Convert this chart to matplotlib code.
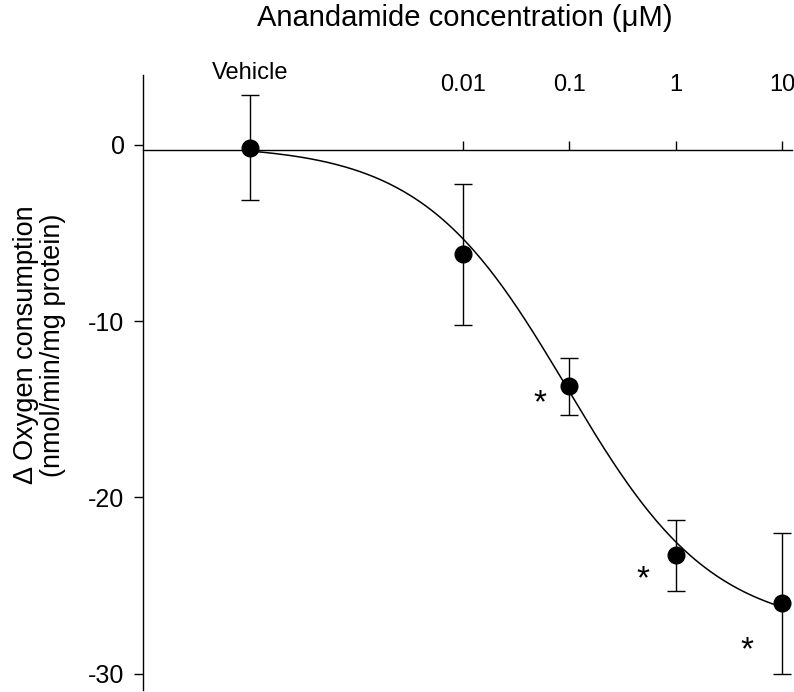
import numpy as np
import matplotlib.pyplot as plt
import matplotlib.transforms as mtransforms
from matplotlib.ticker import NullLocator

plt.rcParams['font.family'] = ['Liberation Sans', 'DejaVu Sans']
plt.rcParams['axes.unicode_minus'] = False

# anandamide concentration (uM), vehicle drawn at 1e-4
conc = [1e-4, 0.01, 0.1, 1, 10]
tick_labels = ['Vehicle', '0.01', '0.1', '1', '10']
oxygen = [-0.15, -6.2, -13.7, -23.3, -26.0]
sem = [3.0, 4.0, 1.6, 2.0, 4.0]

# significance marks
star_x = [0.053, 0.49, 4.7]
star_y = [-14.5, -24.5, -28.5]

# sigmoidal fit
fit_top = 0.0
fit_bottom = -27.6
fit_logec50 = -1.02
fit_hill = 0.635

fig = plt.figure(figsize=(7.94, 6.92), dpi=100)
ax = fig.add_axes([0.1805, 0.003, 0.8166, 0.8887])

xs = np.logspace(np.log10(conc[0]), np.log10(conc[-1]), 300)
fit = fit_bottom + (fit_top - fit_bottom) / (1 + 10 ** ((np.log10(xs) - fit_logec50) * fit_hill))
ax.plot(xs, fit, color='black', lw=1.1, zorder=2)

ax.errorbar(conc, oxygen, yerr=sem, fmt='o', color='black', ms=12,
            capsize=6.5, elinewidth=1, capthick=1, zorder=3)

for sx, sy in zip(star_x, star_y):
    ax.text(sx, sy, '*', fontsize=24, ha='center', va='center_baseline')

ax.set_xscale('log')
ax.set_xlim(1e-5, 12.25)
ax.set_ylim(-30.93, 3.97)

ax.spines['top'].set_visible(False)
ax.spines['right'].set_visible(False)
ax.spines['bottom'].set_position(('data', -0.3))
for s in ax.spines.values():
    s.set_linewidth(1)

ax.set_xticks(conc[1:])
ax.set_xticklabels(tick_labels[1:])
ax.xaxis.set_minor_locator(NullLocator())
ax.tick_params(axis='x', bottom=True, top=False, labelbottom=False, labeltop=True,
               direction='in', length=6.5, width=1, labelsize=17, pad=-15)

trans = mtransforms.blended_transform_factory(ax.transData, ax.transAxes)
ax.text(conc[0], 1.003, tick_labels[0], transform=trans, fontsize=17,
        ha='center', va='center')

ax.set_yticks([0, -10, -20, -30])
ax.tick_params(axis='y', direction='out', length=6.5, width=1, labelsize=18, pad=7)

fig.text(465 / 794, 1 - 18 / 692, 'Anandamide concentration (\u03bcM)',
         fontsize=21, ha='center', va='center')
fig.text(40 / 794, 1 - 345 / 692, '\u0394 Oxygen consumption\n(nmol/min/mg protein)',
         fontsize=19.5, rotation=90, ha='center', va='center', linespacing=1.05)

fig.savefig('out.png', dpi=100)
